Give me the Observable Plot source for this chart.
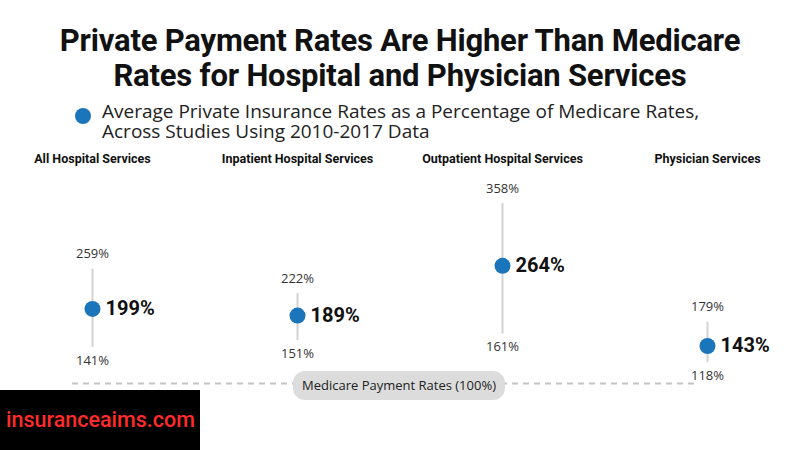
<!DOCTYPE html>
<html>
<head>
<meta charset="utf-8">
<script src="https://cdn.jsdelivr.net/npm/d3@7"></script>
<script src="https://cdn.jsdelivr.net/npm/@observablehq/plot@0.6"></script>
<style>
  html, body { margin: 0; padding: 0; background: #fff; }
  #page { position: relative; width: 800px; height: 450px; overflow: hidden; background: #fff; }
  #title { position: absolute; left: 0; top: 23px; width: 800px; text-align: center;
    font-family: Roboto, sans-serif; font-weight: 700; font-size: 31px; line-height: 35px; color: #111;
    letter-spacing: -0.2px; }
  #legend { position: absolute; left: 75px; top: 101px; }
  #legend .sw { position: absolute; left: 0; top: 7px; width: 16px; height: 16px; border-radius: 50%; background: #1b75bb; }
  #legend .tx { position: absolute; left: 27px; top: 0; width: 700px; font-family: "Open Sans", sans-serif;
    font-size: 19px; line-height: 20px; color: #222; }
  #chart { position: absolute; left: 0; top: 140px; }
  #pill { position: absolute; left: 293px; top: 371px; width: 212px; height: 29px; border-radius: 12px;
    background: #dcdcdc; font-family: "Open Sans", sans-serif; font-size: 13px; line-height: 29px;
    text-align: center; color: #222; }
  #mark { position: absolute; left: 0; top: 390px; width: 200px; height: 60px; background: #000;
    font-family: Roboto, sans-serif; font-weight: 500; font-size: 21.5px; line-height: 60px; color: #ff2b2b; padding-left: 6px; box-sizing: border-box; }
</style>
</head>
<body>
<div id="page">
  <div id="title">Private Payment Rates Are Higher Than Medicare<br>Rates for Hospital and Physician Services</div>
  <div id="legend"><div class="sw"></div><div class="tx">Average Private Insurance Rates as a Percentage of Medicare Rates,<br>Across Studies Using 2010-2017 Data</div></div>
  <div id="chart"></div>
  <div id="pill">Medicare Payment Rates (100%)</div>
  <div id="mark">insuranceaims.com</div>
</div>
<script>
const categories = ["All Hospital Services", "Inpatient Hospital Services", "Outpatient Hospital Services", "Physician Services"];
const averageRate = [199, 189, 264, 143];
const lowRate = [141, 151, 161, 118];
const highRate = [259, 222, 358, 179];
const medicareRate = [100];

const rows = categories.map((c, i) => ({cat: c, avg: averageRate[i], low: lowRate[i], high: highRate[i]}));
const pct = v => v + "%";

const chart = Plot.plot({
  width: 800,
  height: 310,
  marginLeft: 72,
  marginRight: 105,
  marginTop: 18,
  marginBottom: 0,
  x: {type: "point", domain: categories, range: [91, 707], padding: 0, axis: null},
  y: {domain: [100, 400], range: [234, 35.25], axis: null},
  marks: [
    Plot.ruleY(medicareRate, {dy: 9, stroke: "#c4c4c4", strokeWidth: 2, strokeDasharray: "6,5"}),
    Plot.ruleX(rows, {x: "cat", y1: "low", y2: "high", stroke: "#d2d2d2", strokeWidth: 2}),
    Plot.dot(rows, {x: "cat", y: "avg", r: 8, fill: "#1b75bb", stroke: null}),
    Plot.text(rows, {x: "cat", y: "high", text: d => pct(d.high), dy: -15, fontSize: 13, fill: "#333", fontFamily: "Open Sans"}),
    Plot.text(rows, {x: "cat", y: "low", text: d => pct(d.low), dy: 13, fontSize: 13, fill: "#333", fontFamily: "Open Sans"}),
    Plot.text(rows, {x: "cat", y: "avg", text: d => pct(d.avg), dx: 13, textAnchor: "start", fontSize: 20, fontWeight: 700, fill: "#111", fontFamily: "Roboto"}),
    Plot.text(rows, {x: "cat", text: "cat", frameAnchor: "top", lineAnchor: "middle", fontSize: 12.5, fontWeight: 700, fill: "#111", fontFamily: "Roboto"})
  ]
});
document.getElementById("chart").appendChild(chart);
</script>
</body>
</html>
